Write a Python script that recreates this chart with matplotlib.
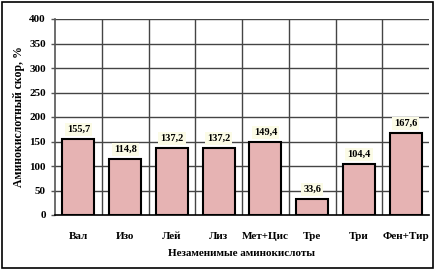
import matplotlib
matplotlib.use("Agg")
import matplotlib.pyplot as plt
from matplotlib.patches import Rectangle
import numpy as np

categories = ["Вал", "Изо", "Лей", "Лиз", "Мет+Цис", "Тре", "Три", "Фен+Тир"]
values = [155.7, 114.8, 137.2, 137.2, 149.4, 33.6, 104.4, 167.6]
labels = ["155,7", "114,8", "137,2", "137,2", "149,4", "33,6", "104,4", "167,6"]
yticks = [0, 50, 100, 150, 200, 250, 300, 350, 400]

plt.rcParams['font.family'] = ['Liberation Serif', 'DejaVu Serif']

fig = plt.figure(figsize=(4.38, 2.75), dpi=100)
W, H = 438, 275
ax = fig.add_axes([55 / W, 1 - 215 / H, (429 - 55) / W, (215 - 19) / H])

x = np.arange(len(categories))
ax.bar(x, values, width=0.68, color="#e6b3b3", edgecolor="black", linewidth=1.5, zorder=3)
ax.set_xlim(-0.5, len(categories) - 0.5)
ax.set_ylim(0, 400)
ax.set_yticks(yticks)
ax.set_xticks(x)
ax.set_xticklabels(categories, fontsize=8, fontweight="bold")
ax.tick_params(axis="y", labelsize=8, length=3, width=1, color="#555555")
for lab in ax.get_yticklabels():
    lab.set_fontweight("bold")
ax.tick_params(axis="x", length=0, pad=12)

for yv in yticks[1:]:
    ax.axhline(yv, color="#444444", linewidth=1.0, zorder=1)
for b in np.arange(0.5, len(categories) - 0.5, 1.0):
    ax.axvline(b, color="#444444", linewidth=1.0, zorder=1)

for s in ["top", "right"]:
    ax.spines[s].set_visible(False)
ax.spines["left"].set_linewidth(1.2)
ax.spines["left"].set_color("#555555")
ax.spines["bottom"].set_linewidth(1.2)

for xi, v, t in zip(x, values, labels):
    ax.text(xi, v + 10, t, ha="center", va="bottom", fontsize=7.5, fontweight="bold",
            bbox=dict(boxstyle="square,pad=0.2", facecolor="#fbfbe6", edgecolor="none"), zorder=4)

ax.set_xlabel("Незаменимые аминокислоты", fontsize=8, fontweight="bold", labelpad=6)
ax.set_ylabel("Аминокислотный скор, %", fontsize=8.5, fontweight="bold", labelpad=3)

fig.patches.append(Rectangle((2 / W, 1 - 268 / H), 431 / W, 266 / H, transform=fig.transFigure,
                             fill=False, edgecolor="black", linewidth=1.2))

fig.savefig("out.png", dpi=100)
